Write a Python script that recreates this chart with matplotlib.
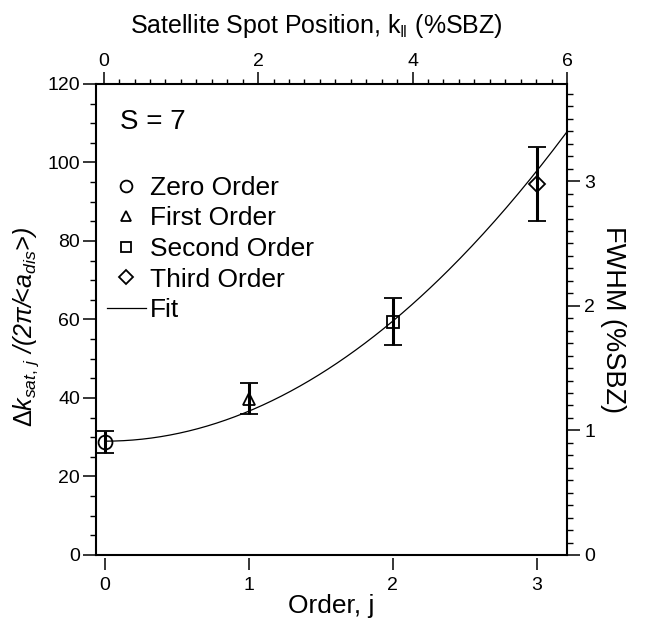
import numpy as np
import matplotlib
matplotlib.use('Agg')
import matplotlib.pyplot as plt
from matplotlib.ticker import MultipleLocator, FixedLocator
from matplotlib.lines import Line2D

plt.rcParams['font.family'] = ['Liberation Sans', 'DejaVu Sans']
plt.rcParams['mathtext.fontset'] = 'custom'
plt.rcParams['mathtext.rm'] = 'Liberation Sans'
plt.rcParams['mathtext.it'] = 'Liberation Sans:italic'
plt.rcParams['mathtext.sf'] = 'Liberation Sans'

# data
orders = [0, 1, 2, 3]
order_names = ['Zero Order', 'First Order', 'Second Order', 'Third Order']
markers = ['o', '^', 's', 'D']
marker_sizes = [10, 9, 9, 8]
dk_vals = [28.8, 39.8, 59.4, 94.5]
dk_errs = [2.9, 4.0, 6.0, 9.5]

# quadratic fit: dk = c + a*j^2
fit_c = 29.0
fit_a = 7.65
j_end = 3.21

fwhm_top = 3.78     # right axis value at dk = 120
kpar_lim = (-0.1, 6.0)

fig = plt.figure(figsize=(6.46, 6.24), dpi=100)
ax = fig.add_axes([0.1486, 0.1106, 0.7291, 0.7548])
axr = ax.twinx()
axt = ax.twiny()

# fit line
jj = np.linspace(0, j_end, 200)
ax.plot(jj, fit_c + fit_a * jj**2, color='black', lw=0.9, zorder=2)

for j, v, e, m, ms in zip(orders, dk_vals, dk_errs, markers, marker_sizes):
    ax.errorbar(j, v, yerr=e, fmt=m, ms=ms, mfc='none', mec='black', mew=1.3,
                ecolor='black', elinewidth=2.2, capsize=6.5, capthick=2.2, zorder=3)

ax.set_xlim(-0.0625, 3.21)
ax.set_ylim(0, 120)
axr.set_ylim(0, fwhm_top)
axt.set_xlim(*kpar_lim)

# spines
for s in ['top', 'right']:
    ax.spines[s].set_visible(False)
ax.spines['bottom'].set_position(('outward', 2))
ax.spines['bottom'].set_visible(False)
ax.spines['left'].set_linewidth(1.5)
for s in ['top', 'left']:
    axr.spines[s].set_visible(False)
axr.spines['right'].set_linewidth(1.5)
axr.spines['bottom'].set_linewidth(1.5)
for s in ['bottom', 'left', 'right']:
    axt.spines[s].set_visible(False)
axt.spines['top'].set_linewidth(1.5)

# ticks
ax.set_xticks(orders)
ax.tick_params(axis='x', which='major', direction='out', length=8.6, width=1.1,
               labelsize=14, pad=5)
ax.yaxis.set_major_locator(MultipleLocator(20))
ax.yaxis.set_minor_locator(MultipleLocator(5))
ax.tick_params(axis='y', which='major', direction='out', length=9.4, width=1.1,
               labelsize=14, pad=2)
ax.tick_params(axis='y', which='minor', direction='out', length=4.3, width=1.0)

axr.yaxis.set_major_locator(MultipleLocator(1))
axr.yaxis.set_minor_locator(MultipleLocator(0.1))
axr.tick_params(axis='y', which='major', direction='out', length=9.4, width=1.1,
                labelsize=14, pad=3)
axr.tick_params(axis='y', which='minor', direction='out', length=4.3, width=1.0)

axt.xaxis.set_major_locator(FixedLocator([0, 2, 4, 6]))
axt.xaxis.set_minor_locator(MultipleLocator(0.2))
axt.tick_params(axis='x', which='major', direction='out', length=8.4, width=1.1,
                labelsize=14, pad=2)
axt.tick_params(axis='x', which='minor', direction='out', length=3.6, width=1.0)

# labels
ax.set_xlabel('Order, j', fontsize=19, labelpad=0)
ax.set_ylabel(r'$\Delta k_{sat,\,j}$ /(2π/<a$_{dis}$>)', fontsize=18, fontstyle='italic',
              labelpad=5)
ax.yaxis.label.set_y(0.485)
axr.set_ylabel('FWHM (%SBZ)', fontsize=19.5, rotation=-90, labelpad=22)
axt.set_xlabel(r'Satellite Spot Position, k$_{\|}$ (%SBZ)', fontsize=18, labelpad=14)
axt.xaxis.label.set_x(0.467)

ax.text(0.051, 0.92, 'S = 7', transform=ax.transAxes, fontsize=20, va='center', ha='left')

handles = [Line2D([], [], ls='none', marker=m, ms=ms * 0.85, mfc='none', mec='black', mew=1.3)
           for m, ms in zip(markers, marker_sizes)]
handles.append(Line2D([], [], color='black', lw=0.9))
labels = order_names + ['Fit']
ax.legend(handles, labels, loc='upper left', bbox_to_anchor=(0.0227, 0.805),
          frameon=False, fontsize=19, handlelength=1.5, handletextpad=0.15,
          labelspacing=0.25, borderpad=0, borderaxespad=0)

fig.savefig('out.png', dpi=100)
